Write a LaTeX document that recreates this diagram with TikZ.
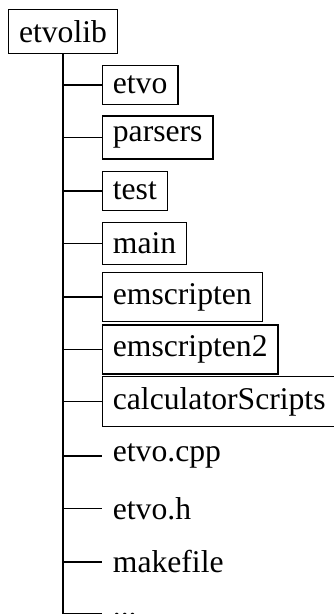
\documentclass[tikz,border=0pt]{standalone}
\usepackage{fontspec}
\setmainfont{Liberation Serif}
\begin{document}
\begin{tikzpicture}[x=1pt,y=-1pt,
  line width=1.27pt,
  dirbox/.style={draw, anchor=west, inner sep=10.55pt, font=\fontsize{31.65}{38}\selectfont},
  filenode/.style={anchor=west, inner sep=10.55pt, font=\fontsize{31.65}{38}\selectfont},
  rootbox/.style={draw, inner sep=10.55pt, font=\fontsize{31.65}{38}\selectfont},
  branch/.style={line width=1.27pt}]
\useasboundingbox (0,0) rectangle (334,614);
\clip (0,0) rectangle (334,614);
\node[rootbox] (root) at (63,31.5) {etvolib};
\node[dirbox] (n1) at (101.7,85) {etvo};
\node[dirbox] (n2) at (101.7,137.5) {parsers};
\node[dirbox] (n3) at (101.7,191) {test};
\node[dirbox] (n4) at (101.7,243.5) {main};
\node[dirbox] (n5) at (101.7,297) {emscripten};
\node[dirbox] (n6) at (101.7,349.5) {emscripten2};
\node[dirbox] (n7) at (101.7,401.5) {calculatorScripts};
\node[filenode] (n8) at (101.7,456) {etvo.cpp};
\node[filenode] (n9) at (101.7,508.5) {etvo.h};
\node[filenode] (n10) at (101.7,562) {makefile};
\node[filenode, text height=0pt, text depth=0pt] (n11) at (101.7,613.5) {\raisebox{-3pt}{...}};
\coordinate (tend) at (63,614.5);
\draw[branch] (root.south) -- (tend);
\foreach \k in {1,...,11} {
  \draw[branch] (root.south |- n\k.west) -- (n\k.west);
}
\end{tikzpicture}
\end{document}
